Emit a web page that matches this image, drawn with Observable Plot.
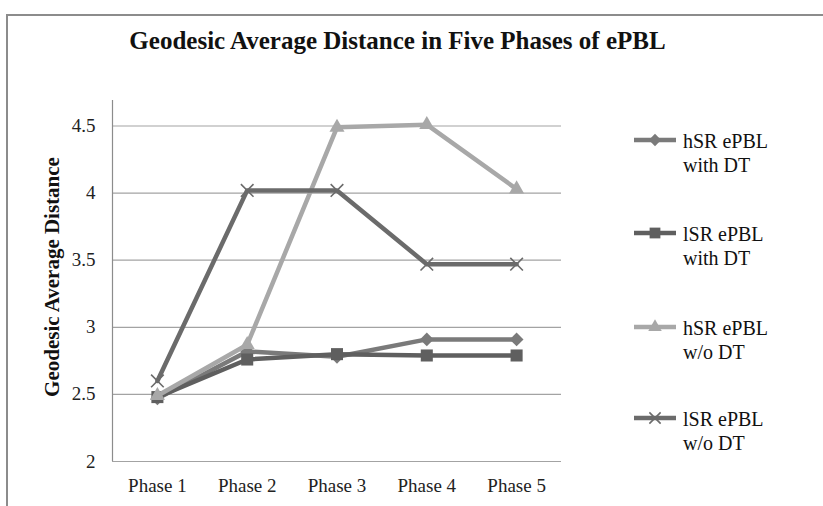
<!DOCTYPE html>
<html><head><meta charset="utf-8">
<script src="https://cdn.jsdelivr.net/npm/d3@7"></script>
<script src="https://cdn.jsdelivr.net/npm/@observablehq/plot@0.6"></script>
<style>
body{margin:0;background:#fff;font-family:"Liberation Serif",serif;overflow:hidden;}
#wrap{position:relative;width:823px;height:506px;overflow:hidden;background:#fff;}
#border{position:absolute;left:6px;top:14px;width:900px;height:600px;border-left:2px solid #8c8c8c;border-top:2px solid #8c8c8c;}
#title{position:absolute;left:0;top:27px;width:795px;text-align:center;font-weight:bold;font-size:25px;color:#111;line-height:28px;}
#chart{position:absolute;left:0;top:90px;}
#legend{position:absolute;left:620px;top:100px;}
</style></head>
<body>
<div id="wrap">
  <div id="border"></div>
  <div id="title">Geodesic Average Distance in Five Phases of ePBL</div>
  <div id="chart"></div>
  <div id="legend"></div>
</div>
<script>
const phases = ["Phase 1", "Phase 2", "Phase 3", "Phase 4", "Phase 5"];
const yTicks = [2, 2.5, 3, 3.5, 4, 4.5];
const seriesNames = ["hSR ePBL with DT", "lSR ePBL with DT", "hSR ePBL w/o DT", "lSR ePBL w/o DT"];
const legendLine1 = ["hSR ePBL", "lSR ePBL", "hSR ePBL", "lSR ePBL"];
const legendLine2 = ["with DT", "with DT", "w/o DT", "w/o DT"];
const hSRwithDT = [2.47, 2.82, 2.78, 2.91, 2.91];
const lSRwithDT = [2.48, 2.76, 2.80, 2.79, 2.79];
const hSRwoDT  = [2.49, 2.87, 4.49, 4.51, 4.03];
const lSRwoDT  = [2.60, 4.02, 4.02, 3.47, 3.47];
const seriesValues = [hSRwithDT, lSRwithDT, hSRwoDT, lSRwoDT];
const seriesColors = ["#7a7a7a", "#5f5f5f", "#a8a8a8", "#6b6b6b"];
const seriesSymbols = ["diamond2", "square", "triangle2", "times"];
const seriesR = [6.2, 6.8, 7.2, 5.8];

const rows = [];
seriesNames.forEach((s, i) => {
  seriesValues[i].forEach((v, j) => rows.push({series: s, idx: i, x: j + 1, y: v}));
});

const marks = [
  Plot.ruleY(yTicks, {y: d => d, stroke: "#a3a3a3", strokeWidth: 1.2}),
  Plot.ruleX([0.5], {stroke: "#8c8c8c", strokeWidth: 1.2}),
  Plot.axisY(yTicks, {tickSize: 0, tickPadding: 4, dx: -13, label: null, fill: "#222", fontSize: 19, tickFormat: d => String(d)}),
  Plot.axisX([1, 2, 3, 4, 5], {tickSize: 0, tickPadding: 17, label: null, fill: "#222", fontSize: 19, tickFormat: d => phases[d - 1]}),
  Plot.text(["Geodesic Average Distance"], {frameAnchor: "left", text: d => d, rotate: -90, dx: -60, dy: -4, textAnchor: "middle", fontWeight: "bold", fontSize: 21, fill: "#111"})
];
seriesNames.forEach((s, i) => {
  const data = rows.filter(r => r.idx === i);
  marks.push(Plot.line(data, {x: "x", y: "y", stroke: seriesColors[i], strokeWidth: 4.5}));
  if (seriesSymbols[i] === "times") {
    marks.push(Plot.dot(data, {x: "x", y: "y", symbol: () => "times", r: seriesR[i], stroke: seriesColors[i], strokeWidth: 1.6, fill: "none"}));
  } else {
    marks.push(Plot.dot(data, {x: "x", y: "y", symbol: () => seriesSymbols[i], r: seriesR[i], fill: seriesColors[i], stroke: "none"}));
  }
});

const chart = Plot.plot({
  width: 600,
  height: 416,
  marginLeft: 112,
  marginRight: 39,
  marginTop: 10,
  marginBottom: 45,
  x: {type: "linear", domain: [0.5, 5.5], axis: null},
  y: {domain: [2, 4.69], axis: null},
  symbol: {type: "identity"},
  style: {fontFamily: "Liberation Serif", fontSize: "19px", background: "transparent", color: "#222", overflow: "visible"},
  marks
});
document.getElementById("chart").appendChild(chart);

// Legend
const lineYs = [40, 133, 227, 318];
const leg = d3.select("#legend").append("svg").attr("width", 200).attr("height", 380)
  .style("font-family", "Liberation Serif");
seriesNames.forEach((s, i) => {
  const g = leg.append("g").attr("transform", `translate(0,${lineYs[i]})`);
  g.append("line").attr("x1", 14).attr("x2", 56).attr("y1", 0).attr("y2", 0)
    .attr("stroke", seriesColors[i]).attr("stroke-width", 4.5);
  const sym = d3.symbol().type({
    diamond2: d3.symbolDiamond2, square: d3.symbolSquare, triangle2: d3.symbolTriangle2, times: d3.symbolTimes
  }[seriesSymbols[i]]).size(Math.PI * seriesR[i] * seriesR[i] * 0.8);
  const p = g.append("path").attr("d", sym()).attr("transform", "translate(35,0)");
  if (seriesSymbols[i] === "times") p.attr("fill", "none").attr("stroke", seriesColors[i]).attr("stroke-width", 1.6);
  else p.attr("fill", seriesColors[i]);
  g.append("text").attr("x", 63).attr("y", 8).attr("font-size", 20).attr("fill", "#111").text(legendLine1[i]);
  g.append("text").attr("x", 63).attr("y", 32).attr("font-size", 20).attr("fill", "#111").text(legendLine2[i]);
});
</script>
</body></html>
